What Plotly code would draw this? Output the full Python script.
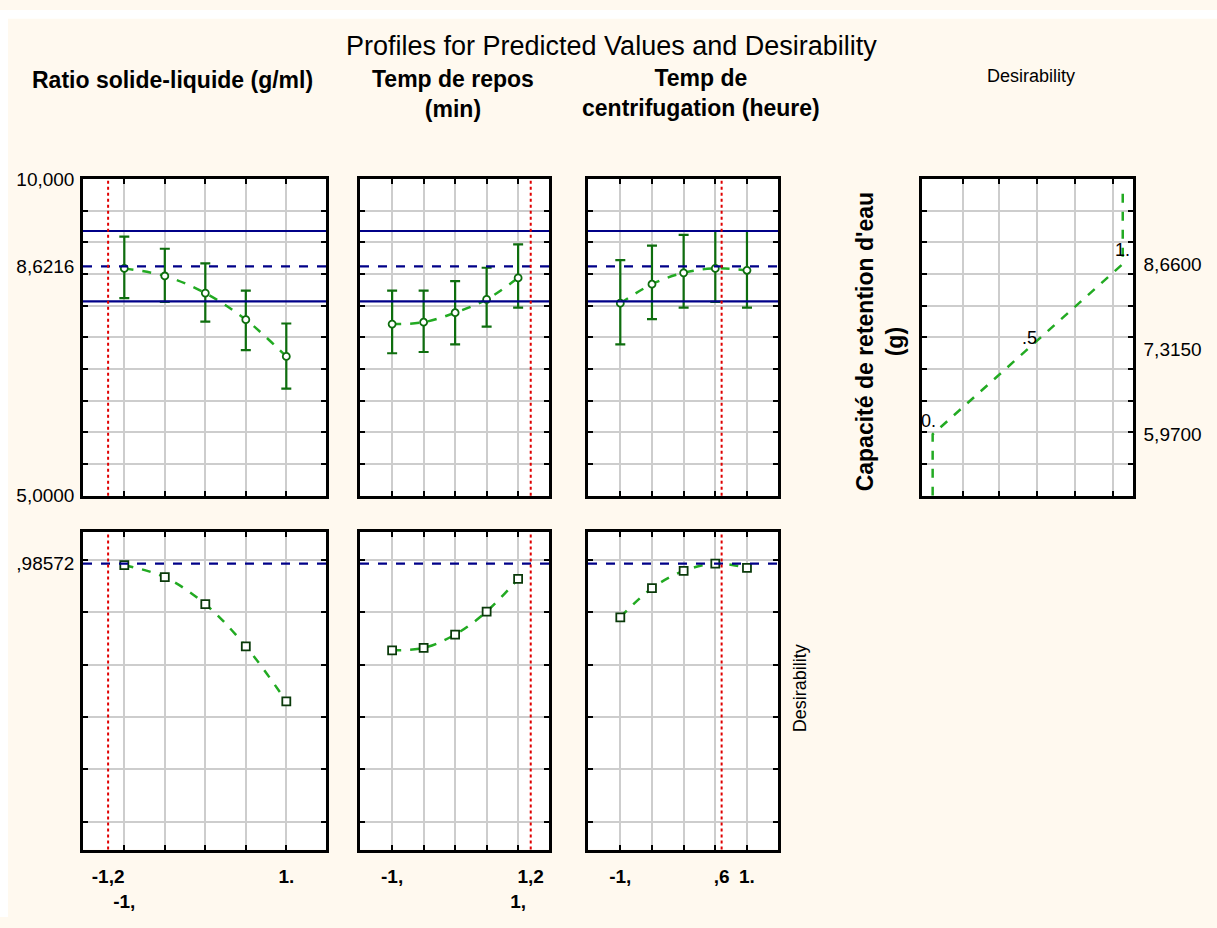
import plotly.graph_objects as go

W, H = 1217, 928

# Factor levels (coded) at which each profile is evaluated
levels = [-1.0, -0.5, 0.0, 0.5, 1.0]

# Predicted response (Capacité de retention d'eau, g) with confidence limits
ratio_pred = [8.59, 8.47, 8.20, 7.78, 7.20]
ratio_hi = [9.09, 8.90, 8.67, 8.24, 7.72]
ratio_lo = [8.12, 8.06, 7.75, 7.30, 6.69]

repos_pred = [7.71, 7.74, 7.89, 8.10, 8.44]
repos_hi = [8.24, 8.24, 8.39, 8.60, 8.97]
repos_lo = [7.25, 7.27, 7.39, 7.67, 7.97]

centri_pred = [8.04, 8.34, 8.52, 8.59, 8.56]
centri_hi = [8.72, 8.95, 9.12, 9.18, 9.18]
centri_lo = [7.39, 7.79, 7.97, 8.06, 7.97]

# Desirability profiles
ratio_des = [0.980, 0.934, 0.831, 0.670, 0.460]
repos_des = [0.655, 0.664, 0.715, 0.803, 0.928]
centri_des = [0.781, 0.892, 0.958, 0.986, 0.970]

# Current (optimal) settings and the prediction there
current_x = [-1.2, 1.2, 0.6]
pred_current = 8.6216
ci_lower, ci_upper = 8.07, 9.18
des_current = 0.98572

# Desirability function of the response
des_fn_resp = [5.0, 5.97, 7.315, 8.66, 9.9]
des_fn_val = [0.0, 0.0, 0.5, 1.0, 1.0]
des_fn_labels = ["0.", ".5", "1."]

# Tick labels
resp_tickvals = [5.0, pred_current, 10.0]
resp_ticktext = ["5,0000", "8,6216", "10,000"]
des_resp_tickvals = [5.97, 7.315, 8.66]
des_resp_ticktext = ["5,9700", "7,3150", "8,6600"]
bottom_tickvals = [[-1.2, -1.0, 1.0], [-1.0, 1.0, 1.2], [-1.0, 0.6, 1.0]]
bottom_ticktext = [["-1,2", "<br>-1,", "1."], ["-1,", "<br>1,", "1,2"], ["-1,", ",6", "1."]]

headers = ["Ratio solide-liquide (g/ml)", "Temp de repos<br>(min)",
           "Temp de<br>centrifugation (heure)"]

# ---- styling ----
FONT = "Liberation Sans, Arial, sans-serif"
BG = "#FFF9EF"
GREEN = "#22AA22"
DKGREEN = "#0E6E0E"
NAVY = "#000088"
RED = "#E00000"
GRID = "#CDCDCD"

cols_px = [(83, 326), (360, 549), (588, 778), (922, 1133)]
top_px = (173, 497)
bot_px = (534, 859)


def xdom(a, b):
    return [a / W, b / W]


def ydom(a, b):
    return [1 - b / H, 1 - a / H]


def base_axis(domain, rng, grid, anchor):
    return dict(
        domain=domain, range=rng, anchor=anchor,
        showline=True, linecolor="black", linewidth=2.5, mirror="ticks",
        showgrid=False, zeroline=False, ticks="", showticklabels=False,
        minor=dict(tickmode="array", tickvals=grid, showgrid=True,
                   gridcolor=GRID, gridwidth=1.5, ticks="inside",
                   ticklen=5, tickwidth=1.5, tickcolor="black"),
    )


xrng = [-1.51, 1.49]
resp_rng = [5.0, 10.0]
des_rng = [-0.106, 1.107]
resp_grid = [5.5, 6.0, 6.5, 7.0, 7.5, 8.0, 8.5, 9.0, 9.5]
des_grid = [0.0, 0.2, 0.4, 0.6, 0.8, 1.0]
desfn_grid = [0.16, 0.35, 0.55, 0.75, 0.95]

layout = dict(
    width=W, height=H, margin=dict(l=0, r=0, t=0, b=0),
    paper_bgcolor=BG, plot_bgcolor="white", showlegend=False,
    font=dict(family=FONT, color="black", size=19),
)

fig = go.Figure()

preds = [ratio_pred, repos_pred, centri_pred]
his = [ratio_hi, repos_hi, centri_hi]
los = [ratio_lo, repos_lo, centri_lo]
dess = [ratio_des, repos_des, centri_des]

shapes = []
for i in range(3):
    t = i + 1          # top-row axis index
    b = i + 5          # bottom-row axis index
    xd = xdom(*cols_px[i])

    # top row axes
    xa = base_axis(xd, xrng, levels, f"y{t}")
    ya = base_axis(ydom(*top_px), resp_rng, resp_grid, f"x{t}")
    if i == 0:
        ya.update(showticklabels=True, tickmode="array", tickvals=resp_tickvals,
                  ticktext=resp_ticktext, tickfont=dict(size=19),
                  ticklabelstandoff=2)
    layout[f"xaxis{t}"] = xa
    layout[f"yaxis{t}"] = ya

    # bottom row axes
    xb = base_axis(xd, xrng, levels, f"y{b}")
    xb.update(showticklabels=True, tickmode="array", tickvals=bottom_tickvals[i],
              ticktext=bottom_ticktext[i],
              tickfont=dict(size=19, family=FONT, weight="bold"),
              tickangle=0, ticklabelstandoff=8)
    yb = base_axis(ydom(*bot_px), des_rng, des_grid, f"x{b}")
    if i == 0:
        yb.update(showticklabels=True, tickmode="array", tickvals=[des_current],
                  ticktext=[",98572"], tickfont=dict(size=19),
                  ticklabelstandoff=2)
    layout[f"xaxis{b}"] = xb
    layout[f"yaxis{b}"] = yb

    # predicted response with confidence intervals
    fig.add_trace(go.Scatter(
        x=levels, y=preds[i], xaxis=f"x{t}", yaxis=f"y{t}",
        mode="lines+markers",
        line=dict(color=GREEN, dash="dash", width=2.5, shape="spline"),
        marker=dict(symbol="circle", size=7, color="white",
                    line=dict(color=DKGREEN, width=1.8)),
        error_y=dict(type="data", symmetric=False,
                     array=[h - p for h, p in zip(his[i], preds[i])],
                     arrayminus=[p - l for p, l in zip(preds[i], los[i])],
                     color=DKGREEN, thickness=2.2, width=5),
    ))

    # desirability profile
    fig.add_trace(go.Scatter(
        x=levels, y=dess[i], xaxis=f"x{b}", yaxis=f"y{b}",
        mode="lines+markers",
        line=dict(color=GREEN, dash="dash", width=2.5, shape="spline"),
        marker=dict(symbol="square", size=8, color="white",
                    line=dict(color="#0A3A0A", width=1.8)),
    ))

    xs = "x" if t == 1 else f"x{t}"
    ys = "y" if t == 1 else f"y{t}"
    # confidence limits and current prediction
    for val, dash in [(ci_upper, "solid"), (pred_current, "dash"), (ci_lower, "solid")]:
        shapes.append(dict(type="line", xref=f"{xs} domain", yref=ys,
                           x0=0, x1=1, y0=val, y1=val,
                           line=dict(color=NAVY, width=2.2, dash=dash)))
    shapes.append(dict(type="line", xref=f"x{b} domain", yref=f"y{b}",
                       x0=0, x1=1, y0=des_current, y1=des_current,
                       line=dict(color=NAVY, width=2.2, dash="dash")))
    # current factor setting
    for xr, yr in [(xs, ys), (f"x{b}", f"y{b}")]:
        shapes.append(dict(type="line", xref=xr, yref=f"{yr} domain",
                           x0=current_x[i], x1=current_x[i], y0=0, y1=1,
                           line=dict(color=RED, width=2, dash="dot")))

# desirability function panel
xa4 = base_axis(xdom(*cols_px[3]), [-0.056, 1.054], desfn_grid, "y4")
ya4 = base_axis(ydom(*top_px), resp_rng, resp_grid, "x4")
ya4.update(side="right", showticklabels=True, tickmode="array",
           tickvals=des_resp_tickvals, ticktext=des_resp_ticktext,
           tickfont=dict(size=19), ticklabelstandoff=4)
layout["xaxis4"] = xa4
layout["yaxis4"] = ya4

fig.add_trace(go.Scatter(
    x=des_fn_val, y=des_fn_resp, xaxis="x4", yaxis="y4", mode="lines",
    line=dict(color=GREEN, dash="dash", width=2.5),
))

annotations = []
label_pts = [(0.0, 5.97, -4, 13), (0.5, 7.315, 2, 11), (1.0, 8.66, 0, 14)]
for txt, (xv, yv, dx, dy) in zip(des_fn_labels, label_pts):
    annotations.append(dict(text=txt, x=xv, y=yv, xref="x4", yref="y4",
                            showarrow=False, xshift=dx, yshift=dy,
                            font=dict(size=18)))


def pa(text, x, y, size, bold=False, angle=0):
    return dict(text=f"<b>{text}</b>" if bold else text,
                x=x / W, y=1 - y / H, xref="paper", yref="paper",
                showarrow=False, textangle=angle, align="center",
                xanchor="center", yanchor="middle",
                font=dict(size=size, family=FONT, color="black"))


annotations.append(pa("Profiles for Predicted Values and Desirability", 611, 37, 27))
annotations.append(pa(headers[0], 172, 72, 23, bold=True))
annotations.append(pa(headers[1], 453, 86, 23, bold=True))
annotations.append(pa(headers[2], 701, 85, 23, bold=True))
annotations.append(pa("Desirability", 1031, 68, 18))
annotations.append(pa("Capacité de retention d'eau<br>(g)", 880, 339, 23, bold=True, angle=-90))
annotations.append(pa("Desirability", 800, 694, 18, angle=-90))

# thin white border along the top and left edges
shapes.append(dict(type="rect", xref="paper", yref="paper", x0=0, x1=1,
                   y0=1 - 9 / H, y1=1.0, fillcolor="white", line=dict(width=0),
                   layer="below"))
shapes.append(dict(type="rect", xref="paper", yref="paper", x0=0, x1=8 / W,
                   y0=0, y1=1.0, fillcolor="white", line=dict(width=0),
                   layer="below"))

layout["shapes"] = shapes
layout["annotations"] = annotations
fig.update_layout(**layout)

fig.write_html("out.html")
